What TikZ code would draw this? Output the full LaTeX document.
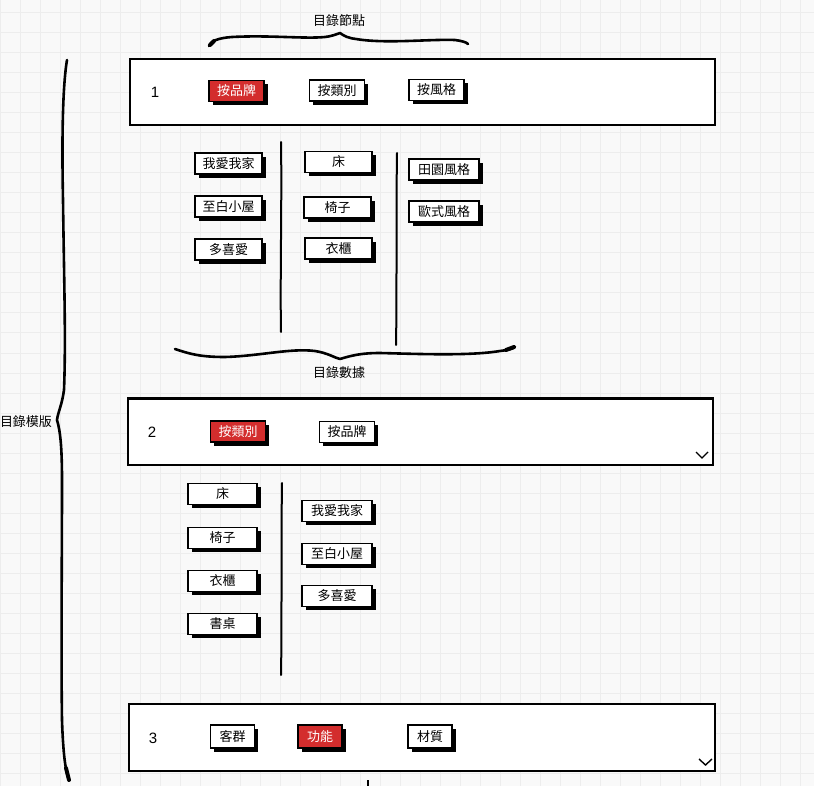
\documentclass[tikz,border=0pt]{standalone}
\usepackage{fontspec}
\setmainfont{Liberation Sans}
\newfontfamily\cjk{Noto Sans CJK TC}
\usetikzlibrary{shadows}
\definecolor{btnred}{RGB}{211,45,45}
\definecolor{gridc}{RGB}{237,237,237}
\definecolor{bgc}{RGB}{249,249,249}
\begin{document}
\begin{tikzpicture}[x=1pt,y=-1pt,
  panel/.style={draw=black, line width=2.4pt, fill=white, inner sep=0pt, minimum width=585pt, minimum height=66pt},
  btn/.style={draw=black, line width=1.6pt, fill=white, inner sep=0pt, text=black,
    font=\cjk\fontsize{13}{15}\selectfont,
    drop shadow={shadow xshift=3.6pt, shadow yshift=-3.6pt, fill=black, opacity=1}},
  sbox/.style={btn, minimum width=67pt, minimum height=21pt},
  pbox/.style={btn, minimum width=55pt, minimum height=21pt},
  tbox/.style={btn, minimum width=44pt, minimum height=23pt},
  redbtn/.style={fill=btnred, text=white},
  num/.style={font=\fontsize{15}{17}\selectfont, inner sep=0pt},
  lbl/.style={font=\cjk\fontsize{13}{15}\selectfont, inner sep=0pt},
  brace/.style={draw=black, line width=2.6pt, line cap=round, line join=round},
  divider/.style={draw=black, line width=2pt, line cap=round},
  chev/.style={draw=black, line width=1.4pt},
]
\useasboundingbox (0,0) rectangle (814,786);
\fill[bgc] (0,0) rectangle (814,786);
\foreach \gx in {0,20,...,800} { \draw[gridc, line width=1pt] (\gx,0) -- (\gx,786); }
\foreach \gy in {13,33,...,786} { \draw[gridc, line width=1pt] (0,\gy) -- (814,\gy); }

% labels
\node[lbl] (tnode) at (339,21) {目錄節點};
\node[lbl] (tdata) at (339,373) {目錄數據};
\node[lbl] (ttpl) at (26,422) {目錄模版};

% braces
\draw[brace] (209,46) .. controls (211,41) and (218,38) .. (232,37)
  .. controls (270,35) and (305,39) .. (325,37)
  .. controls (333,36) and (337,34) .. (340,33)
  .. controls (344,36) and (348,38) .. (356,39)
  .. controls (385,44) and (430,39) .. (455,40)
  .. controls (462,41) and (466,42) .. (468,44);
\draw[black, line width=4pt, line cap=round] (210,45) -- (214,41);

\draw[brace] (175,349) .. controls (190,354) and (200,357) .. (225,357)
  .. controls (260,356) and (290,348) .. (315,351)
  .. controls (328,353) and (335,358) .. (340,359)
  .. controls (350,356) and (360,353) .. (380,353)
  .. controls (420,354) and (470,356) .. (500,351)
  .. controls (508,350) and (512,349) .. (515,347);
\draw[black, line width=4pt, line cap=round] (506,350) -- (514,347);

\draw[brace] (67,60) .. controls (62,90) and (62,150) .. (63,200)
  .. controls (64,280) and (66,340) .. (64,390)
  .. controls (62,405) and (58,412) .. (57,420)
  .. controls (60,430) and (62,445) .. (62,480)
  .. controls (62,560) and (61,650) .. (62,720)
  .. controls (63,750) and (65,770) .. (69,780);
\draw[black, line width=4pt, line cap=round] (66,768) -- (69,780);

% panel 1
\node[panel] (p1) at (422.5,92) {};
\node[num] (n1) at (155,92) {1};
\node[pbox, redbtn] (p1a) at (236.5,91) {按品牌};
\node[pbox] (p1b) at (337,90.5) {按類別};
\node[pbox] (p1c) at (436.5,90) {按風格};

% section 1
\node[sbox] (s1a) at (228.5,163.5) {我愛我家};
\node[sbox] (s1b) at (228.5,206.5) {至白小屋};
\node[sbox] (s1c) at (228.5,249.5) {多喜愛};
\node[sbox] (s1d) at (338.5,162) {床};
\node[sbox] (s1e) at (337.5,207.5) {椅子};
\node[sbox] (s1f) at (338.5,248.5) {衣櫃};
\node[sbox, minimum width=70pt] (s1g) at (444,169.5) {田園風格};
\node[sbox, minimum width=70pt] (s1h) at (444,211.5) {歐式風格};
\coordinate (d1t) at (281,142);
\coordinate (d1b) at (281,332);
\coordinate (d2t) at (397,153);
\coordinate (d2b) at (396,345);
\draw[divider] (d1t) .. controls (282,200) and (280,280) .. (d1b);
\draw[divider] (d2t) .. controls (396,220) and (397,290) .. (d2b);

% panel 2
\node[panel, minimum height=66.5pt] (p2) at (420.5,431.75) {};
\node[num] (n2) at (152,432) {2};
\node[pbox, redbtn] (p2a) at (238,431.5) {按類別};
\node[pbox] (p2b) at (347,432) {按品牌};
\coordinate (c2a) at (696,452);
\coordinate (c2b) at (702,458);
\coordinate (c2c) at (708,452);
\draw[chev] (c2a) -- (c2b) -- (c2c);

% section 2
\node[sbox, minimum width=69pt] (s2a) at (222.5,494) {床};
\node[sbox, minimum width=69pt] (s2b) at (222.5,538) {椅子};
\node[sbox, minimum width=69pt] (s2c) at (222.5,581) {衣櫃};
\node[sbox, minimum width=69pt] (s2d) at (222.5,624) {書桌};
\node[sbox, minimum width=70pt] (s2e) at (337,511) {我愛我家};
\node[sbox, minimum width=70pt] (s2f) at (337,554) {至白小屋};
\node[sbox, minimum width=70pt] (s2g) at (337,596) {多喜愛};
\coordinate (d3t) at (282,483);
\coordinate (d3b) at (281,675);
\draw[divider] (d3t) .. controls (281,550) and (282,620) .. (d3b);

% panel 3
\node[panel, minimum width=586pt, minimum height=67pt] (p3) at (422,737.5) {};
\node[num] (n3) at (153,738) {3};
\node[tbox] (p3a) at (232.5,736.5) {客群};
\node[tbox, redbtn] (p3b) at (320,736.5) {功能};
\node[tbox] (p3c) at (430,736.5) {材質};
\coordinate (c3a) at (699,759);
\coordinate (c3b) at (705.5,765);
\coordinate (c3c) at (712,759);
\draw[chev] (c3a) -- (c3b) -- (c3c);

\coordinate (d4t) at (368,780);
\coordinate (d4b) at (368,787);
\draw[divider, line cap=butt] (d4t) -- (d4b);
\end{tikzpicture}
\end{document}
